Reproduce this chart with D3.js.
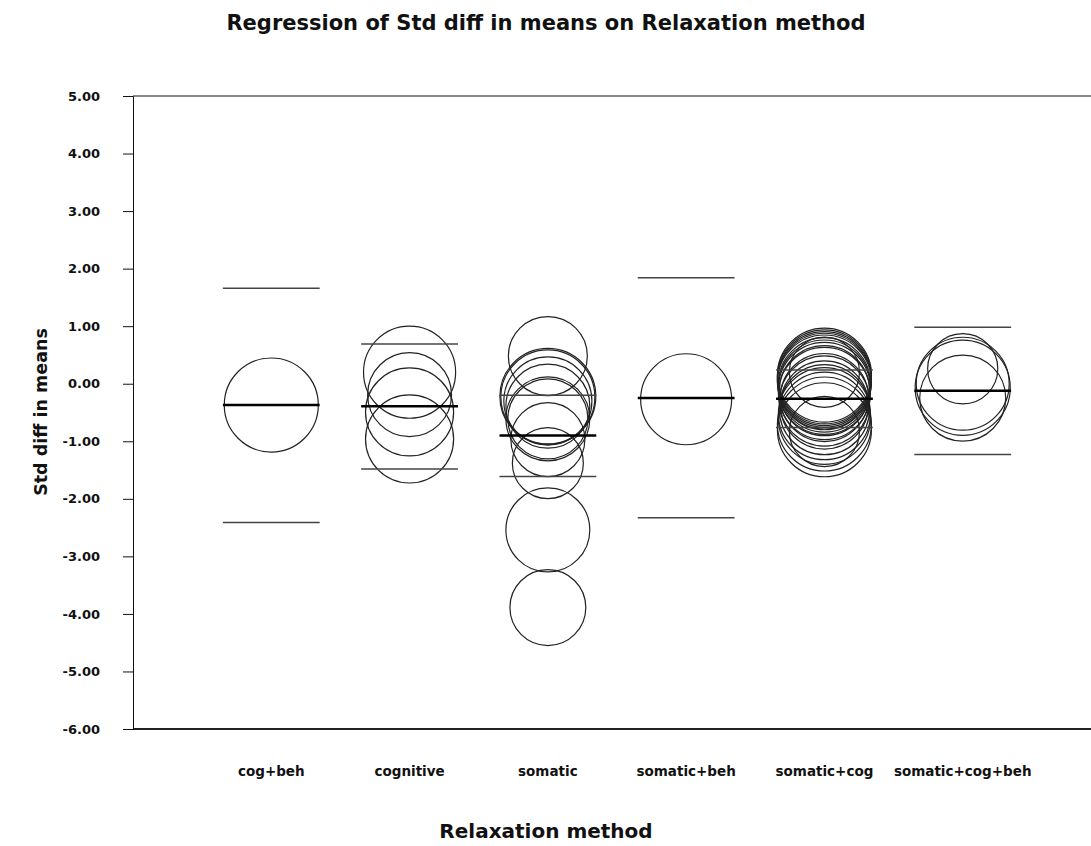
<!DOCTYPE html>
<html>
<head>
<meta charset="utf-8">
<script src="https://cdn.jsdelivr.net/npm/d3@7"></script>
<style>
  html, body { margin: 0; padding: 0; background: #fff; }
  svg { display: block; }
  text { font-family: "DejaVu Sans", "Liberation Sans", Arial, sans-serif; font-weight: bold; fill: #111; }
</style>
</head>
<body>
<script>
// Relaxation method groups (x axis)
const categories = ["cog+beh", "cognitive", "somatic", "somatic+beh", "somatic+cog", "somatic+cog+beh"];

// Regression predicted value and its confidence limits per group
const predicted = [-0.37, -0.39, -0.90, -0.25, -0.26, -0.12];
const upperLimit = [1.66, 0.69, -0.20, 1.84, 0.24, 0.98];
const lowerLimit = [-2.41, -1.48, -1.61, -2.33, -0.76, -1.23];

// Studies per group: [std diff in means, relative weight]
const cogBehStudies = [[-0.37, 22.1]];
const cognitiveStudies = [[0.20, 21.2], [-0.19, 17.6], [-0.49, 19.4], [-0.96, 19.4]];
const somaticStudies = [
  [0.48, 15.6], [-0.22, 23.0], [-0.23, 22.1], [-0.30, 19.4], [-0.39, 17.6],
  [-0.61, 17.6], [-0.61, 16.0], [-0.97, 13.7], [-1.38, 12.6], [-2.54, 17.6], [-3.89, 14.4]
];
const somaticBehStudies = [[-0.27, 20.7]];
const somaticCogStudies = [
  [0.15, 22.1], [0.12, 22.1], [0.09, 22.1], [0.06, 22.1], [0.03, 22.1],
  [0.00, 21.2], [-0.04, 21.2], [0.20, 12.3], [-0.08, 21.2], [-0.12, 20.3],
  [-0.17, 21.2], [-0.24, 19.4], [-0.30, 20.3], [-0.37, 19.4], [-0.45, 20.3],
  [-0.52, 21.2], [-0.60, 21.2], [-0.70, 22.1], [-0.83, 12.3], [-0.80, 22.1]
];
const somaticCogBehStudies = [[0.26, 12.3], [0.00, 21.6], [-0.07, 22.6], [-0.25, 18.5]];

const studyGroups = [cogBehStudies, cognitiveStudies, somaticStudies, somaticBehStudies, somaticCogStudies, somaticCogBehStudies];

// Y axis ticks
const yTicks = [5, 4, 3, 2, 1, 0, -1, -2, -3, -4, -5, -6];

const W = 1091, H = 846;
const plot = { left: 133, right: 1101, top: 96, bottom: 729 };

const svg = d3.select("body").append("svg").attr("width", W).attr("height", H);

const x = d3.scalePoint().domain(categories).range([plot.left, plot.right]).padding(1);
const y = d3.scaleLinear().domain([-6, 5]).range([plot.bottom, plot.top]);
const r = d3.scaleSqrt().domain([0, 25]).range([0, 50]);
const halfLine = x.step() * 0.35;

// Frame: top border and bottom baseline
svg.append("line").attr("x1", plot.left).attr("x2", plot.right)
  .attr("y1", plot.top).attr("y2", plot.top)
  .attr("stroke", "#111").attr("stroke-width", 1);
svg.append("line").attr("x1", plot.left).attr("x2", plot.right)
  .attr("y1", plot.bottom).attr("y2", plot.bottom)
  .attr("stroke", "#222").attr("stroke-width", 2);

// Y axis
const yAxis = d3.axisLeft(y).tickValues(yTicks).tickSize(10).tickPadding(23)
  .tickFormat(d => d.toFixed(2));
const gy = svg.append("g").attr("transform", `translate(${plot.left},0)`).call(yAxis);
gy.select(".domain").attr("stroke", "#111").attr("stroke-width", 1);
gy.selectAll(".tick line").attr("stroke", "#111");
gy.selectAll(".tick text").style("font-size", "13px").attr("fill", "#111")
  .style("font-family", "'DejaVu Sans', sans-serif").style("font-weight", "bold");

// Category labels
svg.append("g").selectAll("text").data(categories).join("text")
  .attr("x", d => x(d)).attr("y", 776)
  .attr("text-anchor", "middle").style("font-size", "13.5px")
  .text(d => d);

// Study circles
studyGroups.forEach((studies, i) => {
  svg.append("g").selectAll("circle").data(studies).join("circle")
    .attr("cx", x(categories[i]))
    .attr("cy", d => y(d[0]))
    .attr("r", d => r(d[1]))
    .attr("fill", "none").attr("stroke", "#222").attr("stroke-width", 1.2);
});

// Confidence limits
const limitRows = categories.map((c, i) => ({ c, up: upperLimit[i], lo: lowerLimit[i], p: predicted[i] }));
const lim = svg.append("g");
lim.selectAll("line.up").data(limitRows).join("line").attr("class", "up")
  .attr("x1", d => x(d.c) - halfLine).attr("x2", d => x(d.c) + halfLine)
  .attr("y1", d => y(d.up)).attr("y2", d => y(d.up))
  .attr("stroke", "#444").attr("stroke-width", 1.5);
lim.selectAll("line.lo").data(limitRows).join("line").attr("class", "lo")
  .attr("x1", d => x(d.c) - halfLine).attr("x2", d => x(d.c) + halfLine)
  .attr("y1", d => y(d.lo)).attr("y2", d => y(d.lo))
  .attr("stroke", "#444").attr("stroke-width", 1.5);
// Predicted values
lim.selectAll("line.pred").data(limitRows).join("line").attr("class", "pred")
  .attr("x1", d => x(d.c) - halfLine).attr("x2", d => x(d.c) + halfLine)
  .attr("y1", d => y(d.p)).attr("y2", d => y(d.p))
  .attr("stroke", "#000").attr("stroke-width", 2.5);

// Titles
svg.append("text").attr("x", 546).attr("y", 30).attr("text-anchor", "middle")
  .style("font-size", "21px").text("Regression of Std diff in means on Relaxation method");
svg.append("text").attr("x", 546).attr("y", 838).attr("text-anchor", "middle")
  .style("font-size", "20px").text("Relaxation method");
svg.append("text").attr("transform", "translate(47,412) rotate(-90)")
  .attr("text-anchor", "middle").style("font-size", "17.5px").text("Std diff in means");
</script>
</body>
</html>
